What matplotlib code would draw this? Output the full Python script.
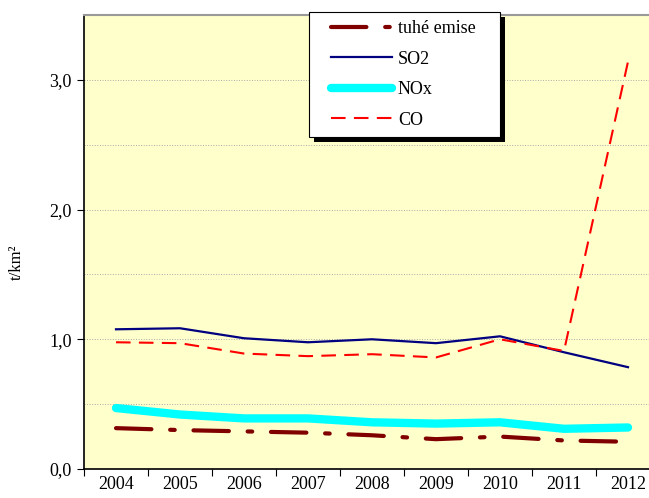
import matplotlib.pyplot as plt
from matplotlib.patches import Rectangle
from matplotlib.ticker import FuncFormatter, MultipleLocator

plt.rcParams['font.family'] = ['Liberation Serif', 'DejaVu Serif']

years = ['2004', '2005', '2006', '2007', '2008', '2009', '2010', '2011', '2012']
tuhe = [0.315, 0.30, 0.29, 0.28, 0.26, 0.23, 0.25, 0.22, 0.21]
so2 = [1.077, 1.085, 1.008, 0.977, 1.0, 0.97, 1.023, 0.90, 0.785]
nox = [0.47, 0.42, 0.39, 0.39, 0.36, 0.35, 0.36, 0.31, 0.32]
co = [0.977, 0.97, 0.89, 0.87, 0.885, 0.86, 1.0, 0.91, 3.14]

W, H = 649, 498
fig = plt.figure(figsize=(W / 100, H / 100), dpi=100)
ax = fig.add_axes([84 / W, 29 / H, 576 / W, 454 / H])
ax.set_facecolor('#FFFFCC')

x = range(len(years))
ax.plot(x, tuhe, color='#800000', lw=3, linestyle=(0, (8.5, 4.5, 1.1, 4.5)),
        dash_capstyle='round', label='tuhé emise', zorder=3)
ax.plot(x, so2, color='#000080', lw=1.6, label='SO2', zorder=3)
ax.plot(x, nox, color='#00FFFF', lw=6, solid_capstyle='round', label='NOx', zorder=2)
ax.plot(x, co, color='#FF0000', lw=1.5, linestyle=(0, (7, 4)), label='CO', zorder=3)

ax.set_xlim(-0.5, 8.5)
ax.set_ylim(0, 3.5)
ax.set_xticks([i - 0.5 for i in range(10)], minor=False)
ax.set_xticklabels([])
ax.set_xticks(list(x), minor=True)
ax.set_xticklabels(years, minor=True)
ax.tick_params(axis='x', which='minor', length=0, labelsize=13, pad=5)
ax.tick_params(axis='x', which='major', length=5, direction='out')
ax.yaxis.set_major_locator(MultipleLocator(1.0))
ax.yaxis.set_minor_locator(MultipleLocator(0.5))
ax.yaxis.set_major_formatter(FuncFormatter(lambda v, p: f'{v:.1f}'.replace('.', ',')))
ax.tick_params(axis='y', which='major', length=5, direction='out', labelsize=13, pad=4)
ax.tick_params(axis='y', which='minor', length=0)
ax.grid(True, axis='y', which='both', color='#AAAAAA', linestyle=':', lw=0.7)
ax.set_axisbelow(True)

ax.spines['top'].set_color('#999999')
ax.spines['top'].set_linewidth(1.5)
ax.spines['left'].set_linewidth(1.2)
ax.spines['bottom'].set_linewidth(1.2)

fig.text(17 / W, 1 - 262 / H, 't/km²', rotation=90, ha='center', va='center', fontsize=12)

# legend box with hard black shadow
bx0, by0, bx1, by1 = 309, 12, 500, 137
bw, bh = (bx1 - bx0) / W, (by1 - by0) / H
fig.add_artist(Rectangle(((bx0 + 5) / W, 1 - (by1 + 5) / H), bw, bh,
                         transform=fig.transFigure, facecolor='black', edgecolor='none', zorder=3))
fig.add_artist(Rectangle((bx0 / W, 1 - by1 / H), bw, bh,
                         transform=fig.transFigure, facecolor='white', edgecolor='black',
                         lw=0.8, zorder=4))
handles, labels = ax.get_legend_handles_labels()
leg = fig.legend(handles, labels, loc='upper left', bbox_to_anchor=(331 / W, 1 - 20 / H),
                 frameon=False, borderaxespad=0, borderpad=0, fontsize=13,
                 handlelength=3.4, handletextpad=0.3, labelspacing=0.75)
leg.set_zorder(5)

fig.savefig('out.png', dpi=100)
